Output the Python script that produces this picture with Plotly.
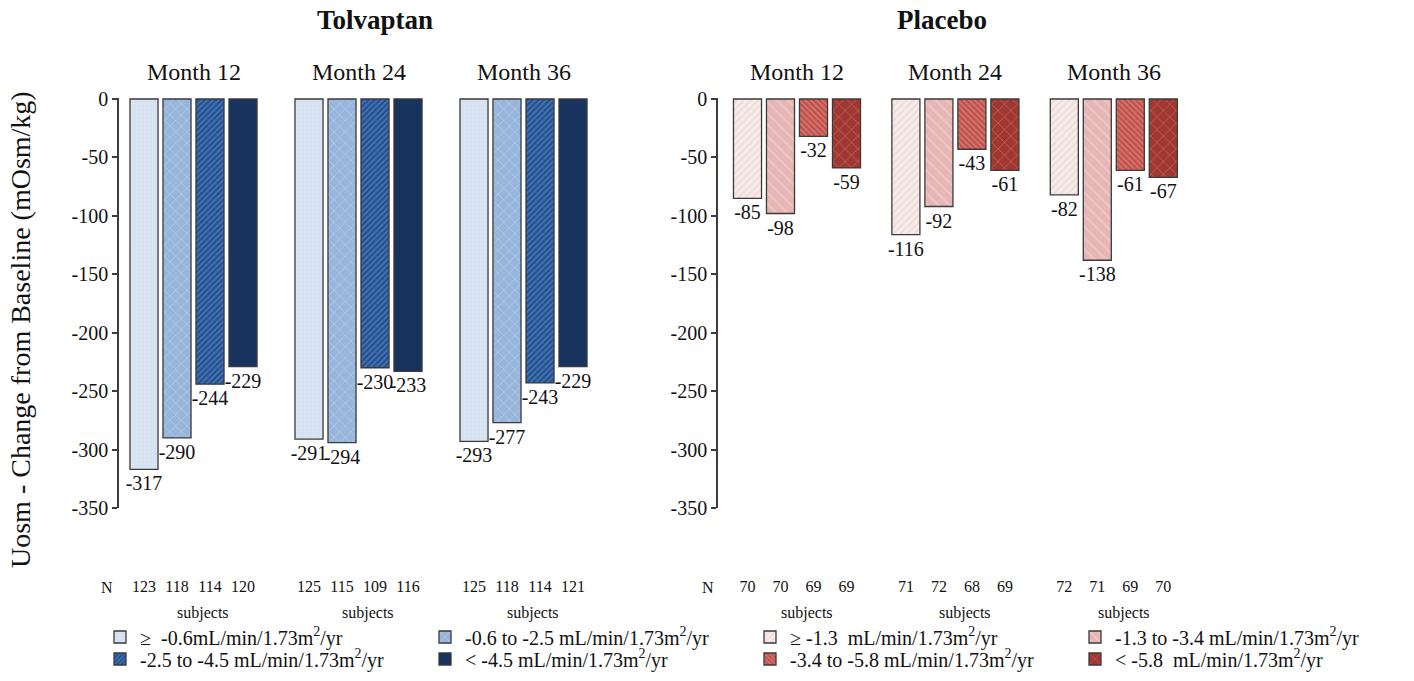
import plotly.graph_objects as go

# ---------------- data ----------------
months = ["Month 12", "Month 24", "Month 36"]

tolv_labels = [
    "≥  -0.6mL/min/1.73m<sup>2</sup>/yr",
    "-0.6 to -2.5 mL/min/1.73m<sup>2</sup>/yr",
    "-2.5 to -4.5 mL/min/1.73m<sup>2</sup>/yr",
    "< -4.5 mL/min/1.73m<sup>2</sup>/yr",
]
plac_labels = [
    "≥ -1.3  mL/min/1.73m<sup>2</sup>/yr",
    "-1.3 to -3.4 mL/min/1.73m<sup>2</sup>/yr",
    "-3.4 to -5.8 mL/min/1.73m<sup>2</sup>/yr",
    "< -5.8  mL/min/1.73m<sup>2</sup>/yr",
]

# values per eGFR-slope category, across Month 12 / 24 / 36
tolv_cat1 = [-317, -291, -293]
tolv_cat2 = [-290, -294, -277]
tolv_cat3 = [-244, -230, -243]
tolv_cat4 = [-229, -233, -229]

plac_cat1 = [-85, -116, -82]
plac_cat2 = [-98, -92, -138]
plac_cat3 = [-32, -43, -61]
plac_cat4 = [-59, -61, -67]

# subjects per bar (category order within each month)
tolv_n_m12 = [123, 118, 114, 120]
tolv_n_m24 = [125, 115, 109, 116]
tolv_n_m36 = [125, 118, 114, 121]
plac_n_m12 = [70, 70, 69, 69]
plac_n_m24 = [71, 72, 68, 69]
plac_n_m36 = [72, 71, 69, 70]

y_ticks = [0, -50, -100, -150, -200, -250, -300, -350]

# ---------------- styles ----------------
FONT = "Liberation Serif, Times New Roman, serif"
W, H = 1414, 681

tolv_styles = [
    dict(bg="#d3e0f0", fg="#f4f8fd", shape="+", size=4, sol=0.25),
    dict(bg="#98b6dc", fg="#dfeaf7", shape="x", size=8, sol=0.14),
    dict(bg="#23508f", fg="#6f9ddb", shape="/", size=4, sol=0.4),
    dict(bg="#18335e", fg="#18335e", shape="", size=4, sol=0.3),
]
plac_styles = [
    dict(bg="#f6ebe8", fg="#e2c8c3", shape="/", size=5, sol=0.3),
    dict(bg="#e5b6b5", fg="#f4d7d6", shape="\\", size=8, sol=0.25),
    dict(bg="#bf4f4a", fg="#eba196", shape="\\", size=4, sol=0.45),
    dict(bg="#a13731", fg="#eaa39b", shape="x", size=9, sol=0.14),
]

tolv_series = [tolv_cat1, tolv_cat2, tolv_cat3, tolv_cat4]
plac_series = [plac_cat1, plac_cat2, plac_cat3, plac_cat4]
tolv_n = [tolv_n_m12, tolv_n_m24, tolv_n_m36]
plac_n = [plac_n_m12, plac_n_m24, plac_n_m36]

TOLV_GAP = 5.0   # group spacing (x units) in the Tolvaptan panel
PLAC_GAP = 4.8   # group spacing in the Placebo panel
BAR_W = 0.85

# legend rows: first row holds categories 1-2, second row 3-4
LEGEND_ROW = ["legend", "legend", "legend2", "legend2"]


def pos(g, i, gap):
    return g * gap + i


fig = go.Figure()
ranks_t = [1, 2, 1, 2]
ranks_p = [3, 4, 3, 4]


def add_panel(series, labels, styles, ranks, gap, xa, ya):
    for i, (vals, lab, st, rk) in enumerate(zip(series, labels, styles, ranks)):
        xs = [pos(g, i, gap) for g in range(len(vals))]
        fig.add_trace(go.Bar(
            x=xs, y=vals, width=BAR_W, name=lab, legendrank=rk, legend=LEGEND_ROW[i],
            xaxis=xa, yaxis=ya,
            marker=dict(
                color=st["bg"],
                line=dict(color="#3a3a3a", width=1.3),
                pattern=dict(shape=st["shape"], fgcolor=st["fg"], bgcolor=st["bg"],
                             size=st["size"], solidity=st["sol"]),
            ),
            text=[str(v) for v in vals], textposition="outside",
            textfont=dict(family=FONT, size=20, color="#111"),
            constraintext="none", cliponaxis=False,
            hoverinfo="skip",
        ))


add_panel(tolv_series, tolv_labels, tolv_styles, ranks_t, TOLV_GAP, "x", "y")
add_panel(plac_series, plac_labels, plac_styles, ranks_p, PLAC_GAP, "x2", "y2")

# axes geometry (pixels -> paper)
y_zero_px, y_bot_px = 99.0, 508.0
px_per_unit = (y_bot_px - y_zero_px) / 350
yrange = [-350, 1]
y_top_px = y_zero_px - px_per_unit * yrange[1]
ydom = [1 - y_bot_px / H, 1 - y_top_px / H]

PX = 33.0  # pixels per x unit
t_x0_px = 144.0
p_x0_px = 747.5
t_dom_px = [119, 605]
p_dom_px = [718, 1210]


def xrange_for(x0, dom):
    return [(dom[0] - x0) / PX, (dom[1] - x0) / PX]


def tick_setup(nlists, gap):
    vals, txt = [], []
    for g, nl in enumerate(nlists):
        for i, n in enumerate(nl):
            vals.append(pos(g, i, gap))
            txt.append(str(n))
    return vals, txt


tv_t, tt_t = tick_setup(tolv_n, TOLV_GAP)
tv_p, tt_p = tick_setup(plac_n, PLAC_GAP)

xcommon = dict(showline=False, showgrid=False, zeroline=False, ticks="",
               tickfont=dict(family=FONT, size=16, color="#111"),
               ticklabelstandoff=67, fixedrange=True)
ycommon = dict(range=yrange, domain=ydom, showline=True, linecolor="#3c3c3c",
               linewidth=1.5, ticks="outside", ticklen=5, tickwidth=1.5,
               tickcolor="#3c3c3c", showgrid=False, zeroline=False,
               tickvals=y_ticks, ticktext=[str(v) for v in y_ticks],
               tickfont=dict(family=FONT, size=20, color="#111"), fixedrange=True)

fig.update_layout(
    xaxis=dict(domain=[t_dom_px[0] / W, t_dom_px[1] / W], range=xrange_for(t_x0_px, t_dom_px),
               tickvals=tv_t, ticktext=tt_t, anchor="y", **xcommon),
    xaxis2=dict(domain=[p_dom_px[0] / W, p_dom_px[1] / W], range=xrange_for(p_x0_px, p_dom_px),
                tickvals=tv_p, ticktext=tt_p, anchor="y2", **xcommon),
    yaxis=dict(anchor="x", **ycommon),
    yaxis2=dict(anchor="x2", **ycommon),
)

# annotations
ann = []


def py(px):
    return 1 - px / H


def add_panel_text(title, title_dx, gap, xa, n_groups, n_px):
    centers = [pos(g, 1.5, gap) for g in range(n_groups)]
    ann.append(dict(text=f"<b>{title}</b>", x=centers[1] + title_dx, y=py(20), xref=xa, yref="paper",
                    xanchor="center", yanchor="middle", showarrow=False,
                    font=dict(family=FONT, size=27, color="#111")))
    for c, m in zip(centers, months):
        ann.append(dict(text=m, x=c, y=py(72), xref=xa, yref="paper", showarrow=False,
                        xanchor="center", yanchor="middle",
                        font=dict(family=FONT, size=24, color="#111")))
        ann.append(dict(text="subjects", x=c + 0.3, y=py(613), xref=xa, yref="paper",
                        xanchor="center", yanchor="middle", showarrow=False,
                        font=dict(family=FONT, size=16, color="#111")))
    ann.append(dict(text="N", x=n_px / W, y=py(587), xref="paper", yref="paper", showarrow=False,
                    xanchor="center", yanchor="middle",
                    font=dict(family=FONT, size=16, color="#111")))


add_panel_text("Tolvaptan", 0.5, TOLV_GAP, "x", 3, 107)
add_panel_text("Placebo", -0.4, PLAC_GAP, "x2", 3, 708)

ann.append(dict(text="Uosm - Change from Baseline (mOsm/kg)", x=20 / W, y=py(330),
                xref="paper", yref="paper", textangle=-90, showarrow=False,
                xanchor="center", yanchor="middle",
                font=dict(family=FONT, size=28, color="#111")))

leg_common = dict(orientation="h", x=100 / W, xanchor="left", yanchor="middle",
                  entrywidth=280, entrywidthmode="pixels", traceorder="normal",
                  font=dict(family=FONT, size=20, color="#111"),
                  bgcolor="rgba(0,0,0,0)", itemclick=False, itemdoubleclick=False,
                  tracegroupgap=0)

fig.update_layout(
    annotations=ann,
    barmode="overlay",
    width=W, height=H,
    margin=dict(l=0, r=0, t=0, b=0, autoexpand=False),
    paper_bgcolor="white", plot_bgcolor="white",
    font=dict(family=FONT, color="#111"),
    showlegend=True,
    legend=dict(y=py(637), **leg_common),
    legend2=dict(y=py(659), **leg_common),
)

fig.write_html("out.html", config={"displayModeBar": False},
               post_script="document.body.style.margin='0';document.body.style.overflow='hidden';")
